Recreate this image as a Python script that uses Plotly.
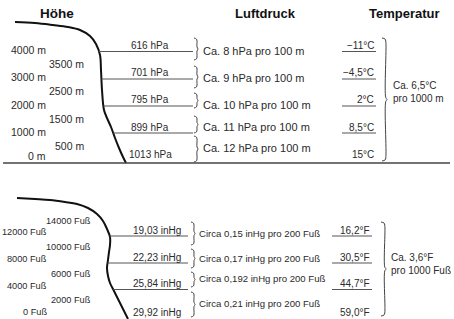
import numpy as np
import plotly.graph_objects as go

# ---------------- data ----------------
titles = ["Höhe", "Luftdruck", "Temperatur"]

# metric section
m_alt_even = ["4000 m", "3000 m", "2000 m", "1000 m", "0 m"]
m_alt_odd = ["3500 m", "2500 m", "1500 m", "500 m"]
m_pressure = ["616 hPa", "701 hPa", "795 hPa", "899 hPa", "1013 hPa"]
m_rate = ["Ca. 8 hPa pro 100 m", "Ca. 9 hPa pro 100 m", "Ca. 10 hPa pro 100 m",
          "Ca. 11 hPa pro 100 m", "Ca. 12 hPa pro 100 m"]
m_temp = ["−11°C", "−4,5°C", "2°C", "8,5°C", "15°C"]
m_lapse = "Ca. 6,5°C<br>pro 1000 m"

# imperial section
f_alt_even = ["12000 Fuß", "8000 Fuß", "4000 Fuß", "0 Fuß"]
f_alt_odd = ["14000 Fuß", "10000 Fuß", "6000 Fuß", "2000 Fuß"]
f_pressure = ["19,03 inHg", "22,23 inHg", "25,84 inHg", "29,92 inHg"]
f_rate = ["Circa 0,15 inHg pro 200 Fuß", "Circa 0,17 inHg pro 200 Fuß",
          "Circa 0,192 inHg pro 200 Fuß", "Circa 0,21 inHg pro 200 Fuß"]
f_temp = ["16,2°F", "30,5°F", "44,7°F", "59,0°F"]
f_lapse = "Ca. 3,6°F<br>pro 1000 Fuß"

# ---------------- layout geometry (pixels, y down) ----------------
TXT = "#2a2a2a"
LINE = "#555555"
FONT = "Liberation Sans, Arial, sans-serif"

top_curve_x = [15, 35, 53, 68, 80, 90, 96, 100, 101, 102, 104, 107, 111, 115, 119, 123, 126]
top_curve_y = [22, 23, 25, 27, 30, 36, 44, 55, 70, 90, 110, 118, 127, 138, 148, 157, 163]
bot_curve_x = [17, 35, 50, 65, 77, 88, 97, 103, 107, 110, 110, 109, 108, 107, 108, 110, 114, 118, 122, 126, 128]
bot_curve_y = [198, 199, 200, 202, 204, 208, 214, 221, 229, 237, 245, 252, 260, 268, 276, 283, 291, 299, 307, 315, 319]

m_line_y = [51.5, 79, 106, 133]
m_label_y = [45, 72, 99, 127, 154]
m_even_y = [50, 77, 105, 132, 156]
m_odd_y = [64, 91, 119, 146]
m_br = [(38, 60), (66, 88), (93, 108), (116, 133), (136, 162)]
m_rate_y = [51, 78, 105, 127, 148]

f_line_y = [236, 263, 289.5]
f_label_y = [230, 257, 283, 312]
f_even_y = [232, 259, 286, 312]
f_odd_y = [221, 247, 274, 300]
f_br = [(222, 245), (249, 268), (272, 287), (292, 317)]
f_rate_y = [233, 258, 278, 303]

fig = go.Figure()


def line(xs, ys, color=LINE, width=1.2, shape="linear"):
    fig.add_trace(go.Scatter(x=xs, y=ys, mode="lines", hoverinfo="skip",
                             line=dict(color=color, width=width, shape=shape)))


def text(x, y, s, anchor="left", size=9.5, bold=False, color=TXT):
    if bold:
        s = "<b>" + s + "</b>"
    fig.add_annotation(x=x, y=y, text=s, showarrow=False, xanchor=anchor, align=anchor if anchor != "center" else "center",
                       yanchor="middle", font=dict(family=FONT, size=size, color=color),
                       xref="x", yref="y")


def bracket(x0, y0, y1, w=4):
    ym = (y0 + y1) / 2
    xs = [x0, x0 + w * 0.6, x0 + w * 0.75, x0 + w * 0.75, x0 + w, x0 + w * 0.75, x0 + w * 0.75, x0 + w * 0.6, x0]
    ys = [y0, y0 + 1, y0 + 3, ym - 2, ym, ym + 2, y1 - 3, y1 - 1, y1]
    line(xs, ys, color="#444444", width=1.0, shape="spline")


# titles
text(57, 13, titles[0], "center", 13.5, True, "#111111")
text(265, 13, titles[1], "center", 13, True, "#111111")
text(404, 13, titles[2], "center", 13, True, "#111111")

# ---- metric section ----
line(top_curve_x, top_curve_y, "#111111", 2.0, "spline")
line([3, 450], [163, 163], "#444444", 1.6)
for y in m_line_y:
    xs = float(np.interp(y, top_curve_y, top_curve_x))
    line([xs, 193], [y, y])
for s, y in zip(m_pressure, m_label_y):
    text(150, y, s, "center", 10)
for s, y in zip(m_alt_even, m_even_y):
    text(48, y, s, "right", 10.5)
for s, y in zip(m_alt_odd, m_odd_y):
    text(86, y, s, "right", 10.5)
for (a, b) in m_br:
    bracket(194, a, b)
for s, y in zip(m_rate, m_rate_y):
    text(201, y, s, "left", 11)
for s, y in zip(m_temp, m_label_y):
    text(376, y, s, "right", 10)
for y in m_line_y:
    line([342, 376], [y, y])
bracket(382, 38, 161, 5)
text(391, 92, m_lapse, "left", 10)

# ---- imperial section ----
line(bot_curve_x, bot_curve_y, "#111111", 2.0, "spline")
for y in f_line_y:
    xs = float(np.interp(y, bot_curve_y, bot_curve_x))
    line([xs, 188], [y, y])
for s, y in zip(f_pressure, f_label_y):
    text(157, y, s, "center", 10)
for s, y in zip(f_alt_even, f_even_y):
    text(49, y, s, "right", 9.2)
for s, y in zip(f_alt_odd, f_odd_y):
    text(93, y, s, "right", 9.2)
for (a, b) in f_br:
    bracket(191, a, b)
for s, y in zip(f_rate, f_rate_y):
    text(197, y, s, "left", 9.6)
for s, y in zip(f_temp, f_label_y):
    text(372, y, s, "right", 10)
for y in f_line_y:
    line([332, 372], [y, y])
bracket(381, 222, 316, 5)
text(389, 264, f_lapse, "left", 10)

fig.update_layout(
    width=454, height=319, autosize=False,
    margin=dict(l=0, r=0, t=0, b=0),
    paper_bgcolor="white", plot_bgcolor="white",
    showlegend=False,
    xaxis=dict(range=[0, 454], visible=False, fixedrange=True),
    yaxis=dict(range=[319, 0], visible=False, fixedrange=True),
)

fig.write_html("out.html", config={"displayModeBar": False, "staticPlot": True},
               post_script="document.body.style.margin='0';")
